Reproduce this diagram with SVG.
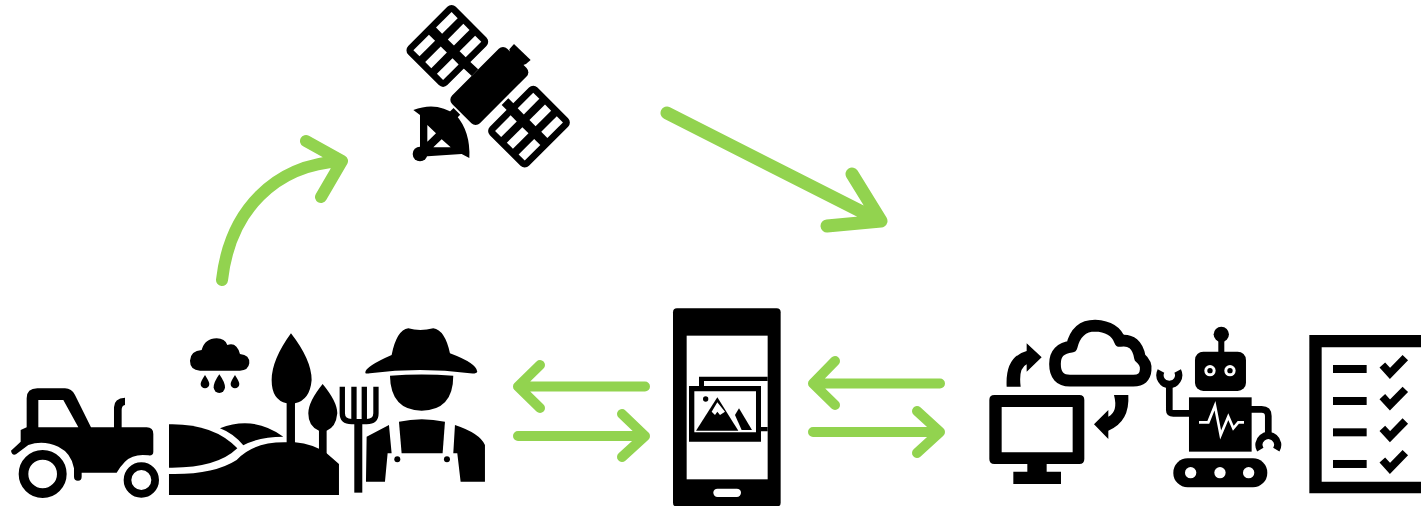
<svg xmlns="http://www.w3.org/2000/svg" width="1421" height="506" viewBox="0 0 1421 506">
<defs><style>
.k{fill:#000}.w{fill:#fff}
.ln{fill:none;stroke:#000;stroke-linecap:butt;stroke-linejoin:round}
.a{fill:none;stroke:#92d34f;stroke-width:10;stroke-linecap:round;stroke-linejoin:round}
.a2{stroke-width:12}.a3{stroke-width:13}
</style>
<g id="panel"><rect x="-83" y="-101" width="166" height="202" rx="18" class="k"/>
<rect x="-63" y="-81" width="26" height="66" class="w"/><rect x="-13" y="-81" width="26" height="66" class="w"/><rect x="37" y="-81" width="26" height="66" class="w"/>
<rect x="-63" y="15" width="26" height="66" class="w"/><rect x="-13" y="15" width="26" height="66" class="w"/><rect x="37" y="15" width="26" height="66" class="w"/></g>
<path id="check" d="M247 120L270 145L316 98" fill="none" stroke="#000" stroke-width="23" stroke-linejoin="miter"/>
</defs>
<rect width="1421" height="506" fill="#fff"/>
<g id="connectors">
<path class="a a2" d="M222 280C230 210 275 165 341 161M306 141L342 161L321 197"/>
<path class="a a3" d="M667 113L880 221M852 174L881 221L827 226"/>
<path class="a" d="M645 386.500H518M540 365L518 386.500L540 408"/>
<path class="a" d="M518 436H645M622 414L645 436L622 457"/>
<path class="a" d="M940 383.500H813M835 361L813 383.500L835 405"/>
<path class="a" d="M813 432H940M917 411L940 432L917 453"/>
</g>
<g id="tractor" transform="translate(0 320) scale(.3333)">
<path class="k" fill-rule="evenodd" d="M62 330L80 322V235Q80 205 112 205H195Q215 205 225 225L273 322H342V262Q342 235 375 233V255Q365 256 365 270V322H440Q460 322 460 342V395Q460 408 445 406Q400 400 375 425Q360 440 350 458H245V470Q245 482 234 482Q222 482 222 470V445Q215 400 175 380Q130 360 85 375L48 403Q36 408 33 392L62 365ZM115 240H190L235 322H115Z"/>
<circle cx="128" cy="462" r="57.500" fill="none" stroke="#000" stroke-width="29"/>
<circle cx="424" cy="480" r="41.500" fill="none" stroke="#000" stroke-width="23"/>
</g>
<g id="landscape" transform="translate(0 320) scale(.3333)">
<path class="k" d="M507 313Q640 310 712 385Q650 445 507 443Z"/>
<path class="k" d="M660 325Q760 285 850 350Q780 350 730 376Q700 340 660 325Z"/>
<path class="k" d="M507 462Q640 465 710 420Q760 365 860 367H885Q940 372 980 400L1017 432V525H507Z"/>
<path class="k" d="M873 40Q935 120 935 180Q930 240 885 250V370H860V250Q815 240 815 180Q815 120 873 40Z"/>
<path class="k" d="M968 192Q1012 245 1012 280Q1008 322 980 332V405H957V332Q925 320 925 280Q925 245 968 192Z"/>
<path class="k" d="M600 152Q570 150 570 122Q572 92 605 90Q615 55 650 55Q675 55 682 75Q710 65 720 102Q750 105 748 130Q745 152 720 152Z"/>
<path class="k" d="M615 165Q628 185 628 192A13 13 0 0 1 602 192Q602 185 615 165Z"/>
<path class="k" d="M658 163Q675 187 675 202A17 17 0 0 1 641 202Q641 187 658 163Z"/>
<path class="k" d="M705 165Q718 185 718 192A13 13 0 0 1 692 192Q692 185 705 165Z"/>
</g>
<g id="pitchfork" transform="translate(0 320) scale(.3333)">
<rect x="1063" y="300" width="24" height="218" class="k"/>
<path class="ln" stroke-width="16" d="M1027 200V280Q1027 305 1055 305H1100Q1128 305 1128 280V200M1062 200V300M1093 200V300"/>
</g>
<g id="farmer" transform="translate(0 320) scale(.3333)">
<path class="k" d="M1096 158Q1095 140 1175 105Q1190 30 1225 25Q1260 35 1300 25Q1335 30 1350 100Q1430 130 1432 155Q1430 162 1410 160Q1260 140 1110 160Q1096 162 1096 158Z"/>
<path class="k" d="M1170 167Q1265 160 1360 167Q1360 270 1265 272Q1172 270 1170 167Z"/>
<path class="k" d="M1197 305Q1265 290 1335 305L1328 400H1205Z"/>
<path class="k" d="M1100 350L1167 315L1175 400H1163L1155 485H1098Z"/>
<path class="k" d="M1365 315Q1440 340 1455 375V485H1382L1372 400H1360Z"/>
<circle cx="1192" cy="418" r="9" class="k"/><circle cx="1341" cy="418" r="9" class="k"/>
</g>
<g id="satellite" transform="translate(390 0) scale(.3333)">
<use href="#panel" transform="translate(172 138) rotate(45)"/>
<use href="#panel" transform="translate(417 380) rotate(45)"/>
<path class="ln" stroke-width="28" d="M225 190L255 218M345 305L372 332"/>
<rect x="-59" y="-117" width="118" height="234" rx="18" class="k" transform="translate(298 258) rotate(45)"/>
<path class="k" d="M372 132L422 180L408 192L392 198L362 165L358 148Z"/>
<path class="k" d="M70 330Q140 303 198 345Q242 395 238 474L215 462L90 470V345Z"/>
<circle cx="90" cy="462" r="22" class="k"/>
<path class="w" d="M112 375L138 400L112 425ZM130 442L155 418L182 442Z"/>
<path class="ln" stroke-width="16" d="M185 330L205 350"/>
</g>
<g id="phone" transform="translate(660 300) scale(.3333)">
<rect x="39" y="25" width="323" height="595" rx="12" class="k"/>
<rect x="80" y="107" width="243" height="431" class="w"/>
<rect x="160" y="566" width="83" height="25" rx="12.500" class="w"/>
<path class="k" d="M117 258V230H323V243H132V258ZM303 381H323V394H303Z"/>
<path class="k" fill-rule="evenodd" d="M87 258H303V425H87ZM103 274V397H288V274Z"/>
<path class="k" d="M108 392L172 292L235 392Z"/>
<path class="w" d="M172 307L155 335L165 345L172 335L180 345L195 335Z"/>
<path class="k" d="M225 345L237 325L276 390H245Z"/>
<circle cx="137" cy="297" r="8" class="k"/>
</g>
<g id="cloud" transform="translate(980 315) scale(.3333)">
<path class="ln" stroke-width="35" d="M270 197Q225 197 225 147Q225 100 275 95Q290 32 345 32Q405 35 420 78Q470 70 480 128Q500 145 497 165Q495 197 460 197Z"/>
<path class="k" d="M80 215Q75 125 140 108V85L185 127L140 170V148Q115 160 122 215Z"/>
<path class="k" d="M402 240H445Q450 320 385 347V372L342 328L385 285V305Q415 290 402 240Z"/>
</g>
<g id="monitor" transform="translate(980 315) scale(.3333)">
<path class="k" fill-rule="evenodd" d="M43 240H298Q313 240 313 255V432Q313 447 298 447H200V470H243V507H100V470H142V447H43Q28 447 28 432V255Q28 240 43 240ZM65 276V412H278V276Z"/>
</g>
<g id="robot" transform="translate(980 315) scale(.3333)">
<rect x="645" y="110" width="153" height="118" rx="25" class="k"/>
<rect x="715" y="70" width="18" height="42" class="k"/><circle cx="724" cy="58" r="23" class="k"/>
<circle cx="690" cy="167" r="17" class="w"/><circle cx="690" cy="167" r="8" class="k"/>
<circle cx="750" cy="167" r="17" class="w"/><circle cx="750" cy="167" r="8" class="k"/>
<rect x="627" y="247" width="188" height="163" class="k"/>
<path d="M657 322H685L705 272L722 360L745 305L760 340L775 322H792" fill="none" stroke="#fff" stroke-width="8"/>
<rect x="580" y="430" width="282" height="87" rx="43" class="k"/>
<circle cx="632" cy="473" r="17" class="w"/><circle cx="720" cy="473" r="17" class="w"/><circle cx="806" cy="473" r="17" class="w"/>
<path class="ln" stroke-width="20" d="M568 205V285Q568 295 580 295H630M812 283H845Q865 283 865 303V362"/>
<path class="ln" stroke-width="22" d="M543 168A28 28 0 1 0 593 168M841 404A28 28 0 1 1 889 404"/>
</g>
<g id="checklist" transform="translate(1300 325) scale(.3333)">
<path class="k" fill-rule="evenodd" d="M28 30H363V505H28ZM65 67V470H363V67Z"/>
<rect x="99" y="120" width="101" height="24" class="k"/><rect x="99" y="216" width="101" height="24" class="k"/><rect x="99" y="310" width="101" height="24" class="k"/><rect x="99" y="405" width="101" height="24" class="k"/>
<use href="#check"/><use href="#check" y="95"/><use href="#check" y="190"/><use href="#check" y="285"/>
</g>
</svg>
